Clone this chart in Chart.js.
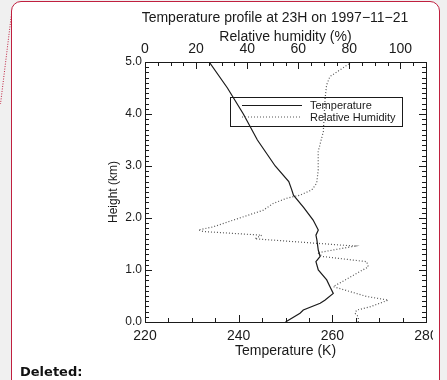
<!DOCTYPE html>
<html>
<head>
<meta charset="utf-8">
<script src="https://cdn.jsdelivr.net/npm/chart.js@4/dist/chart.umd.min.js"></script>
<style>
  body { margin:0; background:#f0f0f0; width:447px; height:380px; overflow:hidden; position:relative; }
  #frame { position:absolute; left:11px; top:1px; width:427px; height:390px; border:1.5px solid #c0203f; border-radius:10px; background:#fff; }
  #clip { position:absolute; left:0; top:0; width:433px; height:380px; overflow:hidden; }
  #link { position:absolute; left:0; top:0; }
  #note { position:absolute; left:20px; top:364px; font:bold 13px/15px "DejaVu Sans", Verdana, sans-serif; color:#111; }
</style>
</head>
<body>
<div id="frame"></div>
<svg id="link" width="14" height="110"><line x1="11.5" y1="14" x2="0.5" y2="104" stroke="#c0203f" stroke-width="1" stroke-dasharray="1 1.5"/></svg>
<div id="clip"><canvas id="profile" width="447" height="380"></canvas></div>
<div id="note">Deleted:</div>
<script>
// temperature profile (km, K)
const heightT = [0.00, 0.17, 0.23, 0.36, 0.42, 0.55, 0.68, 0.81, 1.00, 1.16, 1.26, 1.38, 1.58, 1.67, 1.77, 1.96, 2.20, 2.44, 2.55, 2.70, 3.00, 3.50, 4.00, 4.50, 5.00];
const tempK = [250.0, 253.1, 253.8, 257.4, 258.4, 260.2, 259.5, 258.8, 257.0, 256.5, 257.4, 257.0, 256.7, 256.5, 257.0, 255.9, 253.9, 251.7, 251.3, 250.7, 247.8, 244.0, 241.0, 237.6, 233.7];
// relative humidity profile (km, %)
const heightRH = [0.00, 0.10, 0.17, 0.23, 0.29, 0.42, 0.49, 0.68, 1.06, 1.16, 1.26, 1.33, 1.46, 1.60, 1.67, 1.74, 1.77, 1.83, 1.96, 2.15, 2.28, 2.38, 2.44, 2.54, 2.67, 2.92, 3.28, 3.66, 4.30, 4.56, 4.72, 4.87, 5.00];
const rhPct = [83.5, 83.5, 82.2, 82.9, 88.0, 95.2, 86.8, 73.7, 87.4, 86.8, 69.5, 67.5, 82.2, 43.0, 45.7, 22.8, 20.9, 26.7, 34.6, 46.3, 50.2, 55.5, 60.7, 65.3, 67.2, 67.8, 67.8, 69.8, 70.5, 71.1, 72.4, 77.0, 80.9];

const font = '"Liberation Sans", Arial, Helvetica, sans-serif';
const ink = '#1a1a1a';

// IDL style frame: box, inward ticks, title and legend
const frameTicks = {
    id: 'frameTicks',
    afterDatasetsDraw(chart) {
        const {ctx, chartArea: a, scales} = chart;
        ctx.save();
        ctx.strokeStyle = ink;
        ctx.lineWidth = 1;
        ctx.setLineDash([]);
        ctx.strokeRect(a.left + 0.5, a.top + 0.5, a.right - a.left, a.bottom - a.top);

        ctx.beginPath();
        for (let i = 0; i <= 12; i++) {
            const px = Math.round(scales.x.getPixelForValue(220 + i * 5)) + 0.5;
            const len = i % 4 === 0 ? 7 : 4;
            ctx.moveTo(px, a.bottom); ctx.lineTo(px, a.bottom - len);
        }
        for (let i = 0; i <= 22; i++) {
            const px = Math.round(scales.x2.getPixelForValue(i * 5)) + 0.5;
            const len = i % 4 === 0 ? 7 : 4;
            ctx.moveTo(px, a.top); ctx.lineTo(px, a.top + len);
        }
        for (let i = 0; i <= 50; i++) {
            const py = Math.round(scales.y.getPixelForValue(i / 10)) + 0.5;
            const len = i % 10 === 0 ? 7 : 4;
            ctx.moveTo(a.left, py); ctx.lineTo(a.left + len, py);
            ctx.moveTo(a.right, py); ctx.lineTo(a.right - len, py);
        }
        ctx.stroke();

        ctx.fillStyle = ink;
        ctx.font = '14px ' + font;
        ctx.textAlign = 'center';
        ctx.textBaseline = 'alphabetic';
        ctx.fillText('Temperature profile at 23H on 1997\u221211\u221221', a.left + 130, 22);

        // legend
        const lx = a.left + 85, ly = a.top + 35;
        ctx.strokeRect(lx + 0.5, ly + 0.5, 172, 29);
        const ds = chart.data.datasets;
        ds.forEach((d, i) => {
            const y = ly + 8.5 + i * 11.5;
            ctx.beginPath();
            ctx.strokeStyle = d.borderColor;
            ctx.setLineDash(d.borderDash || []);
            ctx.moveTo(lx + 12, y); ctx.lineTo(lx + 72, y);
            ctx.stroke();
            ctx.setLineDash([]);
            ctx.font = '11px ' + font;
            ctx.textAlign = 'left';
            ctx.fillText(d.label, lx + 80, y + 3.5);
        });
        ctx.restore();
    }
};

new Chart(document.getElementById('profile'), {
    type: 'scatter',
    data: {
        datasets: [{
            label: 'Temperature',
            data: heightT.map((h, i) => ({x: tempK[i], y: h})),
            xAxisID: 'x', yAxisID: 'y',
            showLine: true, borderColor: ink, borderWidth: 1.2, pointRadius: 0
        }, {
            label: 'Relative Humidity',
            data: heightRH.map((h, i) => ({x: rhPct[i], y: h})),
            xAxisID: 'x2', yAxisID: 'y',
            showLine: true, borderColor: '#555', borderWidth: 1.2, borderDash: [1, 2], pointRadius: 0
        }]
    },
    options: {
        responsive: false,
        animation: false,
        layout: {padding: {right: 21}},
        plugins: {legend: {display: false}, tooltip: {enabled: false}},
        scales: {
            x: {
                type: 'linear', position: 'bottom', min: 220, max: 280,
                grid: {display: false, drawTicks: false}, border: {display: false},
                ticks: {stepSize: 20, color: ink, font: {family: font, size: 14}, padding: 6, maxRotation: 0},
                title: {display: true, text: 'Temperature (K)', color: ink, font: {family: font, size: 14}, padding: {top: 0, bottom: 20}},
                afterFit(s) { s.height = 58; }
            },
            x2: {
                type: 'linear', position: 'top', min: 0, max: 110,
                grid: {display: false, drawTicks: false}, border: {display: false},
                ticks: {stepSize: 20, includeBounds: false, color: ink, font: {family: font, size: 14}, padding: 4, maxRotation: 0},
                title: {display: true, text: 'Relative humidity (%)', color: ink, font: {family: font, size: 14}, padding: {top: 29, bottom: 0}},
                afterFit(s) { s.height = 62; }
            },
            y: {
                type: 'linear', position: 'left', min: 0, max: 5,
                grid: {display: false, drawTicks: false}, border: {display: false},
                ticks: {stepSize: 1, color: ink, font: {family: font, size: 12}, padding: 3, callback: v => v.toFixed(1)},
                title: {display: true, text: 'Height (km)', color: ink, font: {family: font, size: 12}, padding: {top: 106, bottom: 0}},
                afterFit(s) { s.width = 145; }
            }
        }
    },
    plugins: [frameTicks]
});
</script>
</body>
</html>
